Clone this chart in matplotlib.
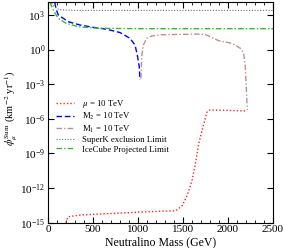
import matplotlib
matplotlib.use("Agg")
import matplotlib.pyplot as plt
import numpy as np
from matplotlib.ticker import FixedLocator, MultipleLocator, NullFormatter

# ---- data (mass in GeV, flux in km^-2 yr^-1) ----
mu_mass = [200, 212, 225, 370, 740, 1110, 1420, 1490, 1545, 1600, 1637, 1674, 1730, 1767, 1800, 2000, 2214]
mu_flux = [1e-15, 2.0e-15, 3.3e-15, 4.7e-15, 6.5e-15, 8.9e-15, 1.1e-14, 2.9e-14,
           2.2e-13, 4.4e-12, 1.2e-10, 6.6e-9, 3.5e-7, 4.0e-6, 5.9e-6, 5.4e-6, 4.8e-6]

m2_mass = [75, 90, 114, 226, 356, 503, 652, 800, 911, 967, 992, 1014, 1022]
m2_flux = [1.26e4, 3.2e3, 1.0e3, 2.6e2, 1.35e2, 85, 58, 30, 9.5,
           2.5, 0.34, 0.033, 2.3e-3]

m1_mass = [1033, 1041, 1059, 1097, 1152, 1244, 1356, 1500, 1650, 1750, 1897, 2044, 2137, 2174, 2192, 2203, 2214]
m1_flux = [3.2e-3, 0.24, 2.5, 9.5, 15, 19, 20, 21, 22,
           20, 5.9, 3.5, 1.3, 0.48, 0.033, 6.2e-4, 5.9e-6]

sk_mass = [20, 60, 100, 150, 300, 2500]
sk_flux = [1.6e4, 6.3e3, 3.5e3, 2.8e3, 2.5e3, 2.5e3]

ic_mass = [20, 78, 114, 200, 340, 550, 1000, 2500]
ic_flux = [1.26e4, 1.4e3, 5.1e2, 1.9e2, 95, 71, 65, 65]

labels = [r"$\mu$ = 10 TeV", r"M$_2$ = 10 TeV", r"M$_1$ = 10 TeV",
          "SuperK exclusion Limit", "IceCube Projected Limit"]

plt.rcParams['font.family'] = ['Liberation Serif', 'DejaVu Serif']
plt.rcParams['mathtext.fontset'] = 'stix'

fig = plt.figure(figsize=(2.84, 2.48), dpi=100)
ax = fig.add_axes([48/284, 1 - 222.7/248, 225/284, 221/248])

ax.plot(mu_mass, mu_flux, color='#ff2020', ls=(0, (1, 1.5)), lw=1.0, label=labels[0])
ax.plot(m2_mass, m2_flux, color='#0000ff', ls=(0, (4, 2)), lw=1.0, label=labels[1])
ax.plot(m1_mass, m1_flux, color='#c09090', ls=(0, (4, 1.5, 1, 1.5)), lw=1.0, label=labels[2])
ax.plot(sk_mass, sk_flux, color='#707070', ls=(0, (1, 1.5)), lw=0.8, label=labels[3])
ax.plot(ic_mass, ic_flux, color='#33bb33', ls=(0, (4, 1.5, 1, 1.5)), lw=1.0, label=labels[4])

ax.set_yscale('log')
ax.set_xlim(0, 2500)
ax.set_ylim(1e-15, 10**4.15)
ax.yaxis.set_major_locator(FixedLocator([10.0**k for k in range(-15, 4, 3)]))
ax.yaxis.set_minor_locator(FixedLocator([]))
ax.xaxis.set_major_locator(MultipleLocator(500))
ax.xaxis.set_minor_locator(MultipleLocator(100))
ax.tick_params(which='both', direction='in', top=True, right=True, labelsize=8, pad=2)
ax.tick_params(which='major', length=4, width=0.8)
ax.tick_params(which='minor', length=2, width=0.6)

ax.set_xlabel("Neutralino Mass (GeV)", fontsize=8.5, labelpad=1)
ax.set_ylabel(r"$\phi_\mu^{\rm Sum}$ (km$^{-2}$ yr$^{-1}$)", fontsize=7.5)
ax.yaxis.set_label_coords(-0.125, 0.52)

leg = ax.legend(loc='upper left', bbox_to_anchor=(0.036, 0.566), frameon=False, fontsize=6.3,
                handlelength=2.0, handletextpad=1.0, labelspacing=0.15,
                borderpad=0, borderaxespad=0)

fig.savefig("out.png", dpi=100)
